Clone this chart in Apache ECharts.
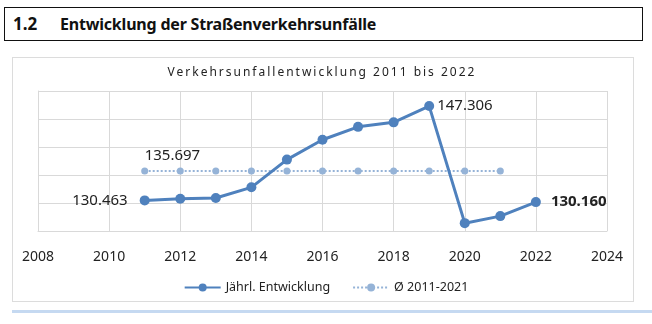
<!DOCTYPE html>
<html><head><meta charset="utf-8">
<script src="https://cdn.jsdelivr.net/npm/echarts@6/dist/echarts.min.js"></script>
<style>
html,body{margin:0;padding:0;background:#fff;width:652px;height:324px;overflow:hidden;font-family:"Noto Sans",sans-serif;}
#hdr{position:absolute;left:4px;top:7px;width:637px;height:32px;border:1.5px solid #111;}
#hdr .num{position:absolute;left:8px;top:4px;font-weight:bold;font-size:17px;color:#111;}
#hdr .txt{position:absolute;left:55px;top:5px;font-weight:bold;font-size:16px;letter-spacing:-0.2px;color:#111;}
#panel{position:absolute;left:12px;top:57px;width:620px;height:243px;border:1px solid #dcdcdc;}
#blue{position:absolute;left:12px;top:310px;width:640px;height:3px;background:#c5d9f1;}
#chart{position:absolute;left:0;top:0;width:652px;height:324px;}
#ctitle{position:absolute;left:0;width:652px;top:63px;text-align:center;font-size:12px;letter-spacing:2px;color:#222;padding-right:8px;box-sizing:border-box;}
</style></head>
<body>
<div id="hdr"><span class="num">1.2</span><span class="txt">Entwicklung der Straßenverkehrsunfälle</span></div>
<div id="panel"></div>
<div id="blue"></div>
<div id="chart"></div>
<div id="ctitle">Verkehrsunfallentwicklung 2011 bis 2022</div>
<script>
const years = [2011,2012,2013,2014,2015,2016,2017,2018,2019,2020,2021,2022];
const accidents = [130463,130750,130900,132800,137750,141300,143600,144400,147306,126400,127660,130160];
const avgYears = [2011,2012,2013,2014,2015,2016,2017,2018,2019,2020,2021];
const avgValue = 135697;
const seriesNames = ['Jährl. Entwicklung','Ø 2011-2021'];

const fmt = v => v.toLocaleString('de-DE');
const lineData = years.map((y,i)=>{
  const d = {value:[y,accidents[i]]};
  if (i===0) d.label={show:true,position:'left',distance:12,formatter:p=>fmt(p.value[1])};
  if (i===8) d.label={show:true,position:'right',distance:3,formatter:p=>fmt(p.value[1])};
  if (i===years.length-1) d.label={show:true,position:'right',distance:10,fontWeight:'bold',formatter:p=>fmt(p.value[1])};
  return d;
});
const avgData = avgYears.map((y,i)=>{
  const d={value:[y,avgValue]};
  if(i===0) d.label={show:true,position:'top',align:'left',offset:[0,0],distance:4,formatter:p=>fmt(p.value[1])};
  return d;
});
const chart = echarts.init(document.getElementById('chart'),null,{renderer:'canvas'});
chart.setOption({
  animation:false,
  textStyle:{fontFamily:'Noto Sans'},
  grid:{left:38,right:45,top:91,bottom:93,containLabel:false},
  xAxis:{type:'value',min:2008,max:2024,interval:2,
    axisLine:{show:true,lineStyle:{color:'#d9d9d9'}},axisTick:{show:false},
    axisLabel:{color:'#222',fontSize:14,margin:19,formatter:v=>String(v)},
    splitLine:{show:true,lineStyle:{color:'#d9d9d9'}}},
  yAxis:{type:'value',min:125000,max:150000,interval:5000,
    axisLine:{show:true,lineStyle:{color:'#d9d9d9'}},axisTick:{show:false},
    axisLabel:{show:false},splitLine:{show:true,lineStyle:{color:'#d9d9d9'}}},
  legend:{bottom:25,left:'center',itemWidth:36,itemHeight:10,itemGap:22,
    textStyle:{color:'#222',fontSize:12.5},data:seriesNames},
  series:[
    {name:seriesNames[0],type:'line',data:lineData,symbol:'circle',symbolSize:10,
      lineStyle:{color:'#4f81bd',width:3},itemStyle:{color:'#4f81bd'},
      label:{color:'#222',fontSize:15},z:3},
    {name:seriesNames[1],type:'line',data:avgData,symbol:'circle',symbolSize:7,
      lineStyle:{color:'#95b3d7',width:2,type:'dotted'},itemStyle:{color:'#95b3d7'},
      label:{color:'#222',fontSize:15},z:2}
  ]
});
</script>
</body></html>
